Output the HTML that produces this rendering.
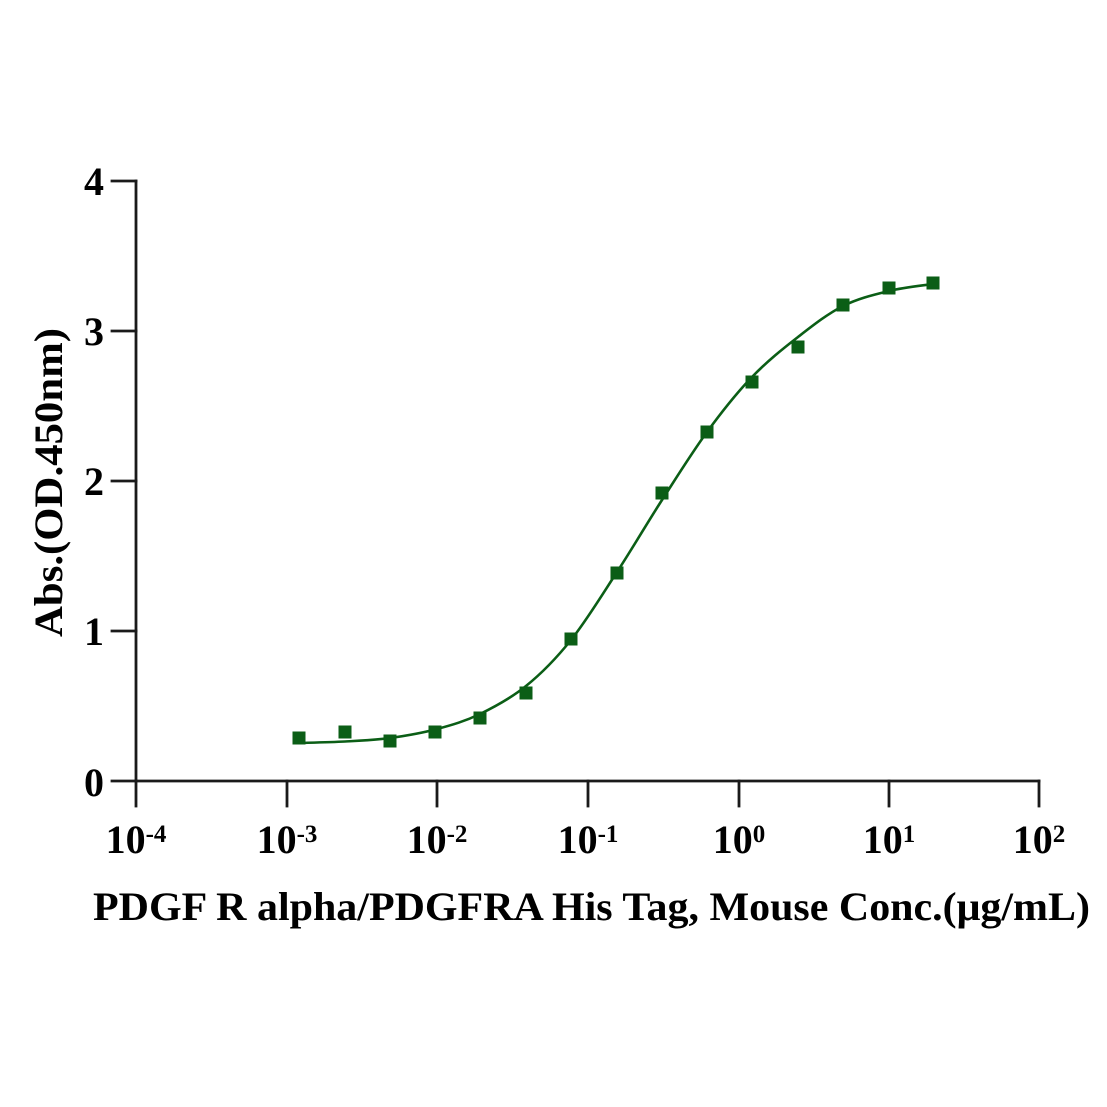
<!DOCTYPE html>
<html>
<head>
<meta charset="utf-8">
<style>
  html, body { margin: 0; padding: 0; background: #ffffff; }
  svg { display: block; }
  text { font-family: "Liberation Serif", "Times New Roman", serif; font-weight: bold; fill: #000; }
</style>
</head>
<body>
<svg width="1107" height="1107" viewBox="0 0 1107 1107" xmlns="http://www.w3.org/2000/svg">
  <rect x="0" y="0" width="1107" height="1107" fill="#ffffff"/>

  <!-- Axes -->
  <g stroke="#1a1a1a" stroke-width="2.8" fill="none" stroke-linecap="square">
    <line x1="136" y1="181" x2="136" y2="781"/>
    <line x1="136" y1="781" x2="1039" y2="781"/>
    <!-- y ticks -->
    <line x1="112" y1="181" x2="136" y2="181"/>
    <line x1="112" y1="331" x2="136" y2="331"/>
    <line x1="112" y1="481" x2="136" y2="481"/>
    <line x1="112" y1="631" x2="136" y2="631"/>
    <line x1="112" y1="781" x2="136" y2="781"/>
    <!-- x ticks -->
    <line x1="136" y1="781" x2="136" y2="806"/>
    <line x1="287" y1="781" x2="287" y2="806"/>
    <line x1="437" y1="781" x2="437" y2="806"/>
    <line x1="588" y1="781" x2="588" y2="806"/>
    <line x1="739" y1="781" x2="739" y2="806"/>
    <line x1="889" y1="781" x2="889" y2="806"/>
    <line x1="1039" y1="781" x2="1039" y2="806"/>
  </g>

  <!-- Y tick labels -->
  <g font-size="40" text-anchor="end">
    <text x="104" y="195">4</text>
    <text x="104" y="345">3</text>
    <text x="104" y="495">2</text>
    <text x="104" y="645">1</text>
    <text x="104" y="796">0</text>
  </g>

  <!-- X tick labels -->
  <g font-size="40" text-anchor="middle">
    <text x="136" y="853">10<tspan font-size="25" dy="-11">-4</tspan></text>
    <text x="287" y="853">10<tspan font-size="25" dy="-11">-3</tspan></text>
    <text x="437" y="853">10<tspan font-size="25" dy="-11">-2</tspan></text>
    <text x="588" y="853">10<tspan font-size="25" dy="-11">-1</tspan></text>
    <text x="739" y="853">10<tspan font-size="25" dy="-11">0</tspan></text>
    <text x="889" y="853">10<tspan font-size="25" dy="-11">1</tspan></text>
    <text x="1039" y="853">10<tspan font-size="25" dy="-11">2</tspan></text>
  </g>

  <!-- Axis titles -->
  <text x="93" y="920" font-size="40" textLength="997" lengthAdjust="spacingAndGlyphs">PDGF R alpha/PDGFRA His Tag, Mouse Conc.(μg/mL)</text>
  <text transform="translate(62,482.5) rotate(-90)" font-size="40" text-anchor="middle" textLength="309" lengthAdjust="spacingAndGlyphs">Abs.(OD.450nm)</text>

  <!-- Fitted curve -->
  <path fill="none" stroke="#0b5e16" stroke-width="2.6" stroke-linecap="round"
    d="M299,743
       C306.7,742.75 329.8,742.3 345,741.5
       C360.2,740.7 374.7,740.1 390,738
       C405.3,735.9 422,733 437,729
       C452,725 465.2,721.2 480,714
       C494.8,706.8 510.8,698.3 526,686
       C541.2,673.7 555.8,659 571,640
       C586.2,621 601.8,595.3 617,572
       C632.2,548.7 647,523.3 662,500
       C677,476.7 692,452.5 707,432
       C722,411.5 736.8,392.8 752,377
       C767.2,361.2 782.8,348.8 798,337
       C813.2,325.2 827.8,313.7 843,306
       C858.2,298.3 874,294.7 889,291
       C904,287.3 925.7,285.2 933,284"/>

  <!-- Data points -->
  <g fill="#0b5e16">
    <rect x="292.5" y="731.5" width="13" height="13"/>
    <rect x="338.5" y="725.5" width="13" height="13"/>
    <rect x="383.5" y="734.5" width="13" height="13"/>
    <rect x="428.5" y="725.5" width="13" height="13"/>
    <rect x="473.5" y="711.5" width="13" height="13"/>
    <rect x="519.5" y="686.5" width="13" height="13"/>
    <rect x="564.5" y="632.5" width="13" height="13"/>
    <rect x="610.5" y="566.5" width="13" height="13"/>
    <rect x="655.5" y="486.5" width="13" height="13"/>
    <rect x="700.5" y="425.5" width="13" height="13"/>
    <rect x="745.5" y="375.5" width="13" height="13"/>
    <rect x="791.5" y="340.5" width="13" height="13"/>
    <rect x="836.5" y="298.5" width="13" height="13"/>
    <rect x="882.5" y="281.5" width="13" height="13"/>
    <rect x="926.5" y="276.5" width="13" height="13"/>
  </g>
</svg>
</body>
</html>
